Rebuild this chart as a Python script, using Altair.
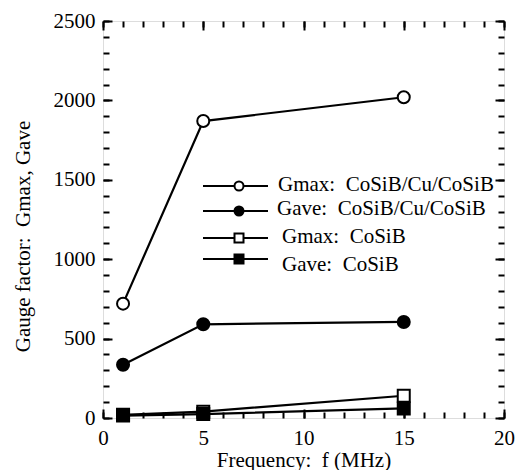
import altair as alt
import pandas as pd

# ---- data ----
freq = [1, 5, 15]
series_names = [
    "Gmax:\u00a0 CoSiB/Cu/CoSiB",
    "Gave:\u00a0 CoSiB/Cu/CoSiB",
    "Gmax:\u00a0 CoSiB",
    "Gave:\u00a0 CoSiB",
]
gmax_multi = [720, 1870, 2020]
gave_multi = [335, 590, 605]
gmax_single = [20, 40, 140]
gave_single = [15, 25, 60]
shapes = ["circle", "circle", "square", "square"]
fills = ["white", "black", "white", "black"]

x_major = [0, 5, 10, 15, 20]
x_minor = list(range(0, 21))
y_major = [0, 500, 1000, 1500, 2000, 2500]
y_minor = list(range(0, 2501, 100))

rows = []
for idx, (name, vals) in enumerate(zip(series_names, [gmax_multi, gave_multi, gmax_single, gave_single])):
    for f, v in zip(freq, vals):
        rows.append({"series": name, "idx": idx, "f": f, "g": v})
df = pd.DataFrame(rows)

FONT = "Liberation Serif, Times New Roman, serif"
FS = 21
W, H = 401, 397

xs = alt.Scale(domain=[0, 20], nice=False, zero=False)
ys = alt.Scale(domain=[0, 2500], nice=False)
shape_scale = alt.Scale(domain=series_names, range=shapes)
fill_scale = alt.Scale(domain=series_names, range=fills)

base = alt.Chart(df)

lines = base.mark_line(color="black", strokeWidth=2.2).encode(
    x=alt.X("f:Q", scale=xs, axis=alt.Axis(
        orient="bottom", values=x_major, ticks=False, tickSize=0, domain=False, grid=False,
        format="d", labelFlush=False,
        labelFont=FONT, labelFontSize=FS, labelColor="black", labelPadding=9,
        title="Frequency:\u00a0 f (MHz)", titleFont=FONT, titleFontSize=FS,
        titleFontWeight="normal", titleColor="black", titlePadding=1)),
    y=alt.Y("g:Q", scale=ys, axis=alt.Axis(
        orient="left", values=y_major, ticks=False, tickSize=0, domain=False, grid=False,
        format="d", labelFlush=False,
        labelFont=FONT, labelFontSize=FS, labelColor="black", labelPadding=8,
        title="Gauge factor:\u00a0 Gmax, Gave", titleFont=FONT, titleFontSize=FS,
        titleFontWeight="normal", titleColor="black", titlePadding=20, titleY=215)),
    detail="series:N",
)

points = base.mark_point(size=144, strokeWidth=2, stroke="black", opacity=1, filled=False).encode(
    x=alt.X("f:Q", scale=xs, axis=None),
    y=alt.Y("g:Q", scale=ys, axis=None),
    shape=alt.Shape("series:N", scale=shape_scale, legend=None),
    fill=alt.Fill("series:N", scale=fill_scale, legend=None),
    order=alt.Order("idx:Q"),
)


def tick_layer(xorient, yorient, xvals, yvals, size):
    common = dict(labels=False, domain=False, grid=False, title=None,
                  tickWidth=2, tickColor="black", tickSize=size, offset=-size)
    return base.mark_point(opacity=0).encode(
        x=alt.X("f:Q", scale=xs, axis=alt.Axis(orient=xorient, values=xvals, **common)),
        y=alt.Y("g:Q", scale=ys, axis=alt.Axis(orient=yorient, values=yvals, **common)),
    )


ticks = [
    tick_layer("bottom", "left", x_minor, y_minor, 6),
    tick_layer("bottom", "left", x_major, y_major, 9),
    tick_layer("top", "right", x_minor, y_minor, 6),
    tick_layer("top", "right", x_major, y_major, 9),
]

# ---- manual legend (pixel positions inside the plot area) ----
dummy = alt.Chart(pd.DataFrame({"k": [0]}))
leg_line_y = [165, 190, 217, 238]
leg_text_x = [175, 174, 179, 179]
leg_text_y = [164, 188, 216, 244]
legend_layers = []
for i, name in enumerate(series_names):
    legend_layers.append(dummy.mark_rule(color="black", strokeWidth=2.2).encode(
        x=alt.value(100), x2=alt.value(165), y=alt.value(leg_line_y[i])))
    legend_layers.append(dummy.mark_point(size=81, strokeWidth=2, stroke="black",
                                          opacity=1, shape=shapes[i], fill=fills[i]).encode(
        x=alt.value(136), y=alt.value(leg_line_y[i])))
    legend_layers.append(dummy.mark_text(font=FONT, fontSize=FS, align="left",
                                         baseline="middle", color="black").encode(
        x=alt.value(leg_text_x[i]), y=alt.value(leg_text_y[i]), text=alt.value(name)))

chart = alt.layer(lines, points, *ticks, *legend_layers).resolve_axis(
    x="independent", y="independent"
).properties(
    width=W, height=H,
    autosize=alt.AutoSizeParams(type="none"),
    padding={"left": 95, "top": 13, "right": 14, "bottom": 52},
).configure_view(
    stroke="black", strokeWidth=2
).configure_axis(
    labelFont=FONT, titleFont=FONT
).configure(background="white")

chart.save("out.html", embed_options={"renderer": "svg", "actions": False})
